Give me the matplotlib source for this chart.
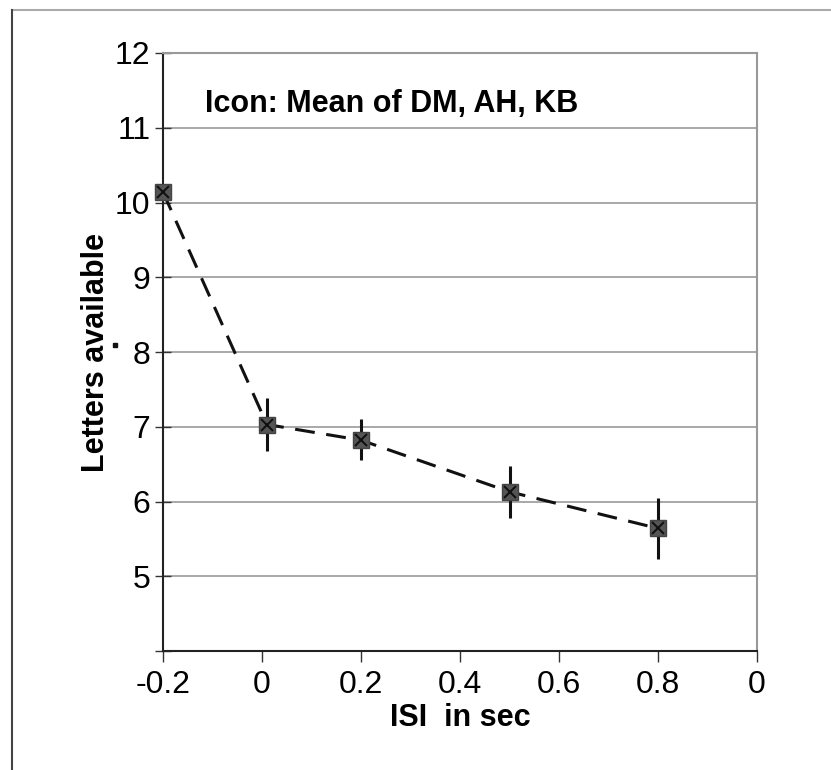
import matplotlib
matplotlib.use("Agg")
import matplotlib.pyplot as plt
from matplotlib.lines import Line2D

plt.rcParams['font.family'] = ['Liberation Sans', 'DejaVu Sans']

# data
isi = [-0.2, 0.01, 0.2, 0.5, 0.8]
letters = [10.14, 7.03, 6.82, 6.13, 5.64]
err_lo = [0.0, 0.35, 0.27, 0.35, 0.41]
err_hi = [0.0, 0.35, 0.28, 0.35, 0.41]

x_ticks = [-0.2, 0, 0.2, 0.4, 0.6, 0.8, 1.0]
x_labels = ['-0.2', '0', '0.2', '0.4', '0.6', '0.8', '0']
y_ticks = [4, 5, 6, 7, 8, 9, 10, 11, 12]
y_labels = ['', '5', '6', '7', '8', '9', '10', '11', '12']

fig = plt.figure(figsize=(8.31, 7.70), dpi=100)
ax = fig.add_axes([163/831, 1 - 651/770, (757-163)/831, (651-53)/770])

ax.set_xlim(-0.2, 1.0)
ax.set_ylim(4, 12)

for y in y_ticks[1:]:
    ax.axhline(y, color='#999999', lw=1.2, zorder=1)

ax.errorbar(isi, letters, yerr=[err_lo, err_hi], fmt='none', ecolor='#111111',
            elinewidth=2.2, capsize=0, zorder=3)
ax.plot(isi, letters, color='#111111', lw=2.2, dashes=(6.5, 3.8), zorder=2, clip_on=False)
ax.plot(isi, letters, ls='none', marker='s', ms=11, mfc='#555555', mec='#444444',
        zorder=4, clip_on=False)
ax.plot(isi, letters, ls='none', marker='x', ms=8, mew=1.5, color='#111111',
        zorder=5, clip_on=False)

ax.set_xticks(x_ticks)
ax.set_xticklabels(x_labels, fontsize=23)
ax.set_yticks(y_ticks)
ax.set_yticklabels(y_labels, fontsize=23)
ax.tick_params(axis='x', direction='out', length=8, width=1, color='#333333', pad=6)
ax.tick_params(axis='y', direction='inout', length=12, width=1, color='#333333', pad=3)

for s in ['left', 'bottom']:
    ax.spines[s].set_color('#222222')
    ax.spines[s].set_linewidth(1.5)
for s in ['top', 'right']:
    ax.spines[s].set_color('#999999')
    ax.spines[s].set_linewidth(1.5)

ax.set_xlabel('ISI  in sec', fontsize=22, fontweight='bold', labelpad=2)
ax.set_ylabel('Letters available', fontsize=22, fontweight='bold', labelpad=3)

ax.text(0.07, 0.901, 'Icon: Mean of DM, AH, KB', transform=ax.transAxes,
        fontsize=22, fontweight='bold', va='baseline', ha='left')

# small stray dot beside the y label in the original
fig.add_artist(Line2D([115/831], [1 - 345/770], transform=fig.transFigure,
                      marker='s', ms=2.5, color='#111111', ls='none'))

# outer frame lines
fig.add_artist(Line2D([12/831, 1], [1 - 10/770, 1 - 10/770], transform=fig.transFigure,
                      color='#aaaaaa', lw=1.5))
fig.add_artist(Line2D([12/831, 12/831], [0, 1 - 10/770], transform=fig.transFigure,
                      color='#444444', lw=1.5))

fig.savefig('out.png', dpi=100)
